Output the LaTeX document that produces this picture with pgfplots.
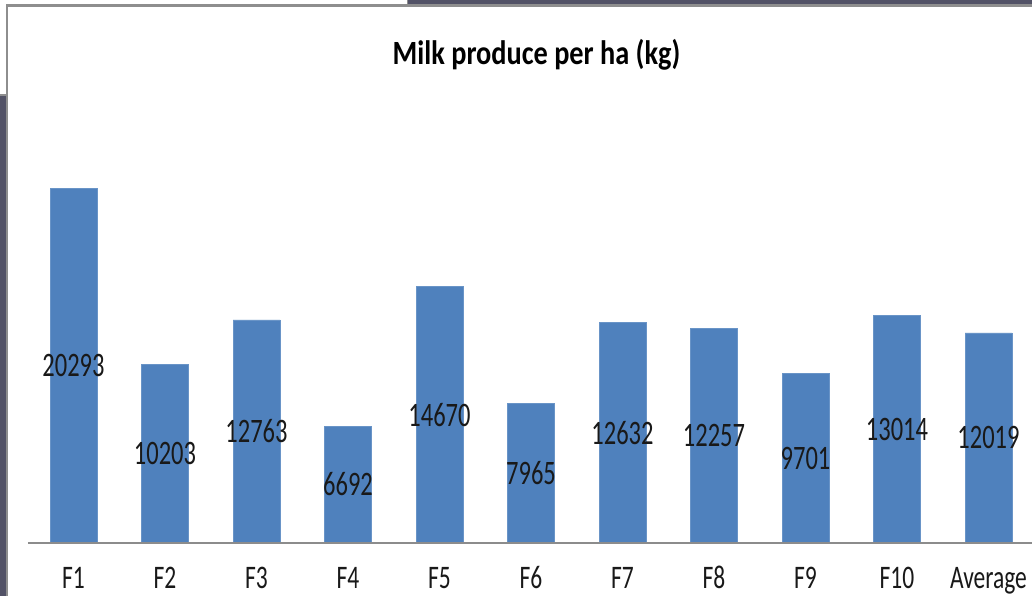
\documentclass[border=0pt]{standalone}
\usepackage{fontspec}
\setmainfont{Carlito}
\usepackage{pgfplots}
\pgfplotsset{compat=1.18}
\usepackage{pgfplotstable}
\usepackage{graphicx}
\definecolor{barblue}{HTML}{4F81BD}
\definecolor{axisgrey}{HTML}{8C8C8C}
\definecolor{darkbg}{HTML}{525266}
\definecolor{bordergrey}{HTML}{8E8E8E}
\newcommand\st[1]{\scalebox{1}[1.4]{#1}}
\pgfplotstableread{
x v
0 20293
1 10203
2 12763
3 6692
4 14670
5 7965
6 12632
7 12257
8 9701
9 13014
10 12019
}\datatable
\begin{document}
\begin{tikzpicture}
\useasboundingbox (0,0) rectangle (1032bp,596bp);
\clip (0,0) rectangle (1032bp,596bp);
\fill[white] (0,0) rectangle (1032bp,596bp);
\fill[darkbg] (0,0) rectangle (6bp,500bp);
\fill[bordergrey] (0,500bp) rectangle (6bp,501.5bp);
\fill[darkbg] (408bp,592bp) rectangle (1032bp,596bp);
\fill[bordergrey] (406.5bp,592bp) rectangle (408bp,596bp);
\fill[bordergrey] (6bp,0) rectangle (8bp,592bp);
\fill[bordergrey] (6bp,589bp) rectangle (1032bp,592bp);
\begin{axis}[
  at={(27.75bp,53bp)}, anchor=south west,
  scale only axis, width=1006.5bp, height=437bp,
  xmin=-0.5, xmax=10.5, ymin=0, ymax=25000,
  enlargelimits=false,
  axis line style={draw=none},
  hide y axis,
  major tick length=0pt, minor tick num=0,
  tick style={draw=none},
  ytick=\empty,
  xtick={0,...,10},
  xtick pos=bottom,
  xticklabels={\st{F1},\st{F2},\st{F3},\st{F4},\st{F5},\st{F6},\st{F7},\st{F8},\st{F9},\st{F10},\st{Average}},
  xticklabel style={font=\fontsize{23.5bp}{28bp}\selectfont, text=black!90, anchor=base, yshift=-45bp, inner sep=0pt},
  clip=false,
]
\addplot[ybar, bar width=47bp, fill=barblue, draw=barblue!85!white, line width=0.6bp] table[x=x, y=v] {\datatable};
\addplot[draw=none, point meta=explicit symbolic,
  nodes near coords={\st{\pgfplotspointmeta}},
  every node near coord/.style={anchor=center, inner sep=0pt, font=\fontsize{24.5bp}{28bp}\selectfont, text=black!90}]
  table[x=x, y expr=\thisrow{v}/2, meta=v] {\datatable};
\end{axis}
\draw[axisgrey, line width=1.5bp] (27.75bp,53bp) -- (1032bp,53bp);
\node[anchor=base, font=\bfseries\fontsize{28.3bp}{32bp}\selectfont, inner sep=0pt] at (536.5bp,531bp) {\scalebox{1}[1.2]{Milk produce per ha (kg)}};
\end{tikzpicture}
\end{document}
